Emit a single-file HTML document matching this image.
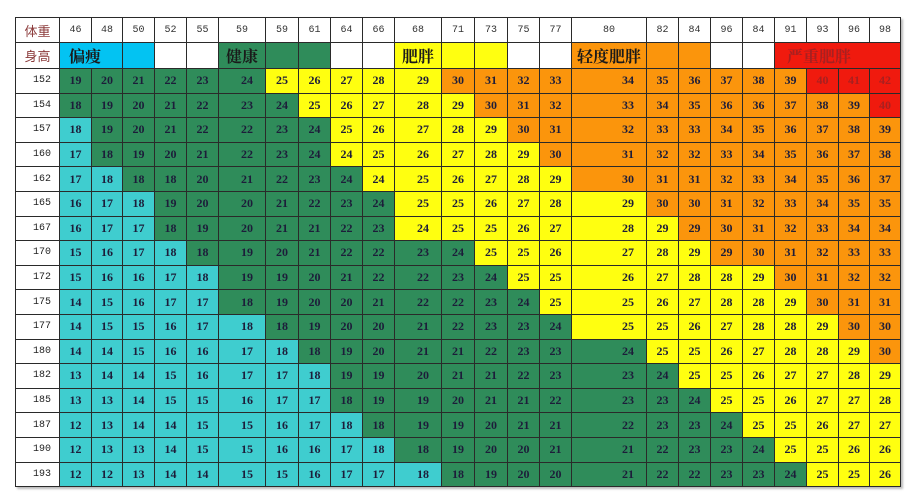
<!DOCTYPE html>
<html><head><meta charset="utf-8"><style>
body{margin:0;background:#fff;width:916px;height:500px;overflow:hidden;}
table{position:absolute;left:15px;top:17px;border-collapse:collapse;table-layout:fixed;box-shadow:2px 2px 2px #bbb;}
td{border:1px solid #2a2a2a;padding:0;text-align:center;font:bold 12px "Liberation Serif",serif;color:#1d1d3a;height:23.6px;white-space:nowrap;overflow:visible;}
tr.h td{height:24px;font:10px "Liberation Mono",monospace;color:#333;background:#fff;}
tr.l td{height:25px;font:bold 16px "Liberation Serif","Noto Serif CJK SC",serif;color:#1a1a1a;text-align:center;padding:0;}
td.f{font:13px "Liberation Sans","Noto Sans CJK SC",sans-serif !important;color:#8b3a3a !important;text-align:center !important;font-weight:normal !important;}
td.r0{font:10px "Liberation Mono",monospace;color:#222;background:#fff;text-align:left;padding-left:17px;font-weight:normal;}
.c{background:#3fcdcf}.g{background:#2f8c5a}.y{background:#ffff10}.o{background:#fb950c}.r{background:#f01a0e;color:#a82020}
.b{background:#03c3f2}.w{background:#fff}
tr td:nth-child(7),tr td:nth-child(12),tr td:nth-child(17){text-align:right;padding-right:12px}
</style></head><body>
<table>
<colgroup><col style="width:44px"><col style="width:32px"><col style="width:31px"><col style="width:32px"><col style="width:32px"><col style="width:32px"><col style="width:47px"><col style="width:33px"><col style="width:32px"><col style="width:32px"><col style="width:32px"><col style="width:47px"><col style="width:33px"><col style="width:33px"><col style="width:32px"><col style="width:32px"><col style="width:75px"><col style="width:32px"><col style="width:32px"><col style="width:32px"><col style="width:32px"><col style="width:32px"><col style="width:32px"><col style="width:31px"><col style="width:31px"></colgroup>
<tr class="h"><td class="f">体重</td><td>46</td><td>48</td><td>50</td><td>52</td><td>55</td><td style="text-align:center;padding:0">59</td><td>59</td><td>61</td><td>64</td><td>66</td><td style="text-align:center;padding:0">68</td><td>71</td><td>73</td><td>75</td><td>77</td><td style="text-align:center;padding:0">80</td><td>82</td><td>84</td><td>96</td><td>84</td><td>91</td><td>93</td><td>96</td><td>98</td></tr>
<tr class="l"><td class="f">身高</td><td class="b" colspan="2" style="text-align:left;padding-left:9px">偏瘦</td><td class="b"></td><td class="w"></td><td class="w"></td><td class="g">健康</td><td class="g"></td><td class="g"></td><td class="w"></td><td class="w"></td><td class="y">肥胖</td><td class="y"></td><td class="y"></td><td class="w"></td><td class="w"></td><td class="o">轻度肥胖</td><td class="o"></td><td class="o"></td><td class="w"></td><td class="w"></td><td class="r" colspan="4" style="text-align:left;padding-left:12px;color:#a82020">严重肥胖</td></tr>
<tr><td class="r0">152</td><td class="g">19</td><td class="g">20</td><td class="g">21</td><td class="g">22</td><td class="g">23</td><td class="g">24</td><td class="y">25</td><td class="y">26</td><td class="y">27</td><td class="y">28</td><td class="y">29</td><td class="o">30</td><td class="o">31</td><td class="o">32</td><td class="o">33</td><td class="o">34</td><td class="o">35</td><td class="o">36</td><td class="o">37</td><td class="o">38</td><td class="o">39</td><td class="r">40</td><td class="r">41</td><td class="r">42</td></tr>
<tr><td class="r0">154</td><td class="g">18</td><td class="g">19</td><td class="g">20</td><td class="g">21</td><td class="g">22</td><td class="g">23</td><td class="g">24</td><td class="y">25</td><td class="y">26</td><td class="y">27</td><td class="y">28</td><td class="y">29</td><td class="o">30</td><td class="o">31</td><td class="o">32</td><td class="o">33</td><td class="o">34</td><td class="o">35</td><td class="o">36</td><td class="o">36</td><td class="o">37</td><td class="o">38</td><td class="o">39</td><td class="r">40</td></tr>
<tr><td class="r0">157</td><td class="c">18</td><td class="g">19</td><td class="g">20</td><td class="g">21</td><td class="g">22</td><td class="g">22</td><td class="g">23</td><td class="g">24</td><td class="y">25</td><td class="y">26</td><td class="y">27</td><td class="y">28</td><td class="y">29</td><td class="o">30</td><td class="o">31</td><td class="o">32</td><td class="o">33</td><td class="o">33</td><td class="o">34</td><td class="o">35</td><td class="o">36</td><td class="o">37</td><td class="o">38</td><td class="o">39</td></tr>
<tr><td class="r0">160</td><td class="c">17</td><td class="g">18</td><td class="g">19</td><td class="g">20</td><td class="g">21</td><td class="g">22</td><td class="g">23</td><td class="g">24</td><td class="y">24</td><td class="y">25</td><td class="y">26</td><td class="y">27</td><td class="y">28</td><td class="y">29</td><td class="o">30</td><td class="o">31</td><td class="o">32</td><td class="o">32</td><td class="o">33</td><td class="o">34</td><td class="o">35</td><td class="o">36</td><td class="o">37</td><td class="o">38</td></tr>
<tr><td class="r0">162</td><td class="c">17</td><td class="c">18</td><td class="g">18</td><td class="g">18</td><td class="g">20</td><td class="g">21</td><td class="g">22</td><td class="g">23</td><td class="g">24</td><td class="y">24</td><td class="y">25</td><td class="y">26</td><td class="y">27</td><td class="y">28</td><td class="y">29</td><td class="o">30</td><td class="o">31</td><td class="o">31</td><td class="o">32</td><td class="o">33</td><td class="o">34</td><td class="o">35</td><td class="o">36</td><td class="o">37</td></tr>
<tr><td class="r0">165</td><td class="c">16</td><td class="c">17</td><td class="c">18</td><td class="g">19</td><td class="g">20</td><td class="g">20</td><td class="g">21</td><td class="g">22</td><td class="g">23</td><td class="g">24</td><td class="y">25</td><td class="y">25</td><td class="y">26</td><td class="y">27</td><td class="y">28</td><td class="y">29</td><td class="o">30</td><td class="o">30</td><td class="o">31</td><td class="o">32</td><td class="o">33</td><td class="o">34</td><td class="o">35</td><td class="o">35</td></tr>
<tr><td class="r0">167</td><td class="c">16</td><td class="c">17</td><td class="c">17</td><td class="g">18</td><td class="g">19</td><td class="g">20</td><td class="g">21</td><td class="g">21</td><td class="g">22</td><td class="g">23</td><td class="y">24</td><td class="y">25</td><td class="y">25</td><td class="y">26</td><td class="y">27</td><td class="y">28</td><td class="y">29</td><td class="o">29</td><td class="o">30</td><td class="o">31</td><td class="o">32</td><td class="o">33</td><td class="o">34</td><td class="o">34</td></tr>
<tr><td class="r0">170</td><td class="c">15</td><td class="c">16</td><td class="c">17</td><td class="c">18</td><td class="g">18</td><td class="g">19</td><td class="g">20</td><td class="g">21</td><td class="g">22</td><td class="g">22</td><td class="g">23</td><td class="g">24</td><td class="y">25</td><td class="y">25</td><td class="y">26</td><td class="y">27</td><td class="y">28</td><td class="y">29</td><td class="o">29</td><td class="o">30</td><td class="o">31</td><td class="o">32</td><td class="o">33</td><td class="o">33</td></tr>
<tr><td class="r0">172</td><td class="c">15</td><td class="c">16</td><td class="c">16</td><td class="c">17</td><td class="c">18</td><td class="g">19</td><td class="g">19</td><td class="g">20</td><td class="g">21</td><td class="g">22</td><td class="g">22</td><td class="g">23</td><td class="g">24</td><td class="y">25</td><td class="y">25</td><td class="y">26</td><td class="y">27</td><td class="y">28</td><td class="y">28</td><td class="y">29</td><td class="o">30</td><td class="o">31</td><td class="o">32</td><td class="o">32</td></tr>
<tr><td class="r0">175</td><td class="c">14</td><td class="c">15</td><td class="c">16</td><td class="c">17</td><td class="c">17</td><td class="g">18</td><td class="g">19</td><td class="g">20</td><td class="g">20</td><td class="g">21</td><td class="g">22</td><td class="g">22</td><td class="g">23</td><td class="g">24</td><td class="y">25</td><td class="y">25</td><td class="y">26</td><td class="y">27</td><td class="y">28</td><td class="y">28</td><td class="y">29</td><td class="o">30</td><td class="o">31</td><td class="o">31</td></tr>
<tr><td class="r0">177</td><td class="c">14</td><td class="c">15</td><td class="c">15</td><td class="c">16</td><td class="c">17</td><td class="c">18</td><td class="g">18</td><td class="g">19</td><td class="g">20</td><td class="g">20</td><td class="g">21</td><td class="g">22</td><td class="g">23</td><td class="g">23</td><td class="g">24</td><td class="y">25</td><td class="y">25</td><td class="y">26</td><td class="y">27</td><td class="y">28</td><td class="y">28</td><td class="y">29</td><td class="o">30</td><td class="o">30</td></tr>
<tr><td class="r0">180</td><td class="c">14</td><td class="c">14</td><td class="c">15</td><td class="c">16</td><td class="c">16</td><td class="c">17</td><td class="c">18</td><td class="g">18</td><td class="g">19</td><td class="g">20</td><td class="g">21</td><td class="g">21</td><td class="g">22</td><td class="g">23</td><td class="g">23</td><td class="g">24</td><td class="y">25</td><td class="y">25</td><td class="y">26</td><td class="y">27</td><td class="y">28</td><td class="y">28</td><td class="y">29</td><td class="o">30</td></tr>
<tr><td class="r0">182</td><td class="c">13</td><td class="c">14</td><td class="c">14</td><td class="c">15</td><td class="c">16</td><td class="c">17</td><td class="c">17</td><td class="c">18</td><td class="g">19</td><td class="g">19</td><td class="g">20</td><td class="g">21</td><td class="g">21</td><td class="g">22</td><td class="g">23</td><td class="g">23</td><td class="g">24</td><td class="y">25</td><td class="y">25</td><td class="y">26</td><td class="y">27</td><td class="y">27</td><td class="y">28</td><td class="y">29</td></tr>
<tr><td class="r0">185</td><td class="c">13</td><td class="c">13</td><td class="c">14</td><td class="c">15</td><td class="c">15</td><td class="c">16</td><td class="c">17</td><td class="c">17</td><td class="g">18</td><td class="g">19</td><td class="g">19</td><td class="g">20</td><td class="g">21</td><td class="g">21</td><td class="g">22</td><td class="g">23</td><td class="g">23</td><td class="g">24</td><td class="y">25</td><td class="y">25</td><td class="y">26</td><td class="y">27</td><td class="y">27</td><td class="y">28</td></tr>
<tr><td class="r0">187</td><td class="c">12</td><td class="c">13</td><td class="c">14</td><td class="c">14</td><td class="c">15</td><td class="c">15</td><td class="c">16</td><td class="c">17</td><td class="c">18</td><td class="g">18</td><td class="g">19</td><td class="g">19</td><td class="g">20</td><td class="g">21</td><td class="g">21</td><td class="g">22</td><td class="g">23</td><td class="g">23</td><td class="g">24</td><td class="y">25</td><td class="y">25</td><td class="y">26</td><td class="y">27</td><td class="y">27</td></tr>
<tr><td class="r0">190</td><td class="c">12</td><td class="c">13</td><td class="c">13</td><td class="c">14</td><td class="c">15</td><td class="c">15</td><td class="c">16</td><td class="c">16</td><td class="c">17</td><td class="c">18</td><td class="g">18</td><td class="g">19</td><td class="g">20</td><td class="g">20</td><td class="g">21</td><td class="g">21</td><td class="g">22</td><td class="g">23</td><td class="g">23</td><td class="g">24</td><td class="y">25</td><td class="y">25</td><td class="y">26</td><td class="y">26</td></tr>
<tr><td class="r0">193</td><td class="c">12</td><td class="c">12</td><td class="c">13</td><td class="c">14</td><td class="c">14</td><td class="c">15</td><td class="c">15</td><td class="c">16</td><td class="c">17</td><td class="c">17</td><td class="c">18</td><td class="g">18</td><td class="g">19</td><td class="g">20</td><td class="g">20</td><td class="g">21</td><td class="g">22</td><td class="g">22</td><td class="g">23</td><td class="g">23</td><td class="g">24</td><td class="y">25</td><td class="y">25</td><td class="y">26</td></tr>
</table>
</body></html>
